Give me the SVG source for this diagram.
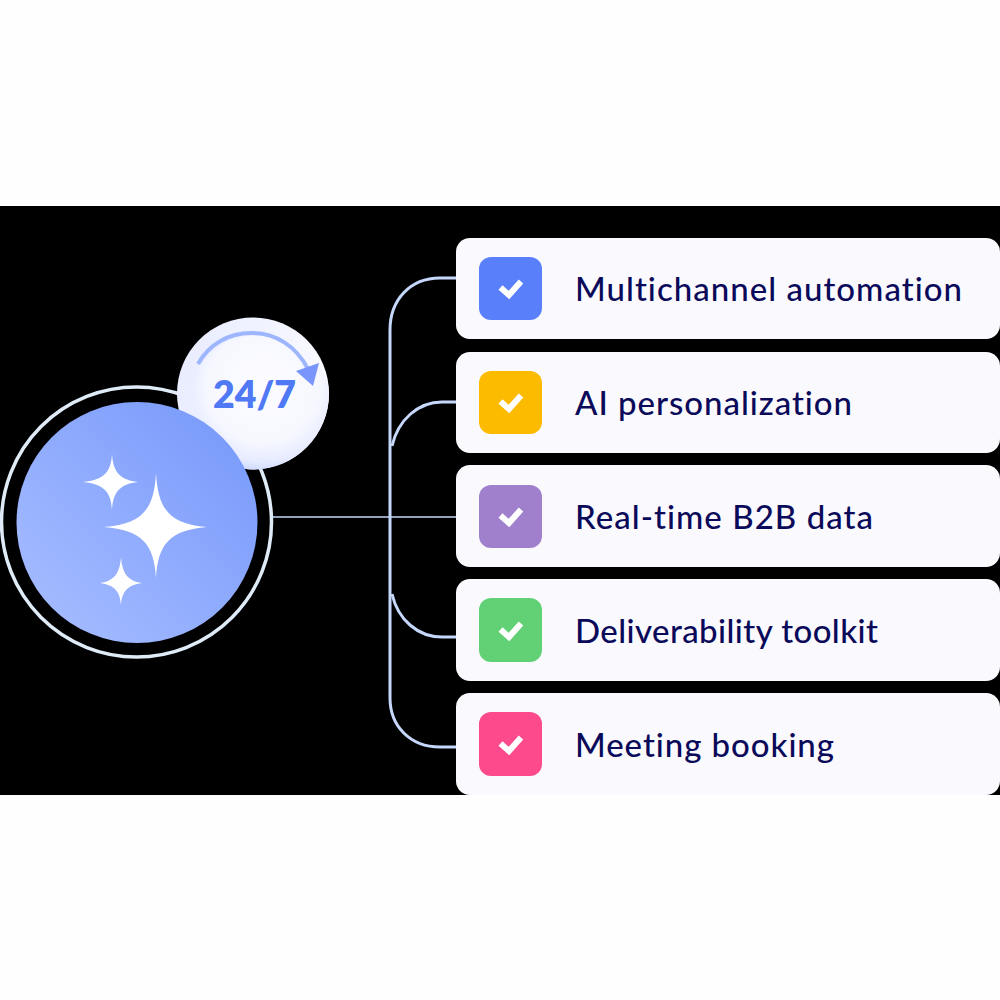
<svg xmlns="http://www.w3.org/2000/svg" width="1000" height="1000" viewBox="0 0 1000 1000">
<defs>
<linearGradient id="big" x1="0.15" y1="0.9" x2="0.9" y2="0.15"><stop offset="0" stop-color="#a3baff"/><stop offset="1" stop-color="#7b9cfb"/></linearGradient>
<radialGradient id="small" cx="0.52" cy="0.38" r="0.66"><stop offset="0" stop-color="#fcfcff"/><stop offset="0.62" stop-color="#f7f8ff"/><stop offset="0.85" stop-color="#e6ebff"/><stop offset="1" stop-color="#c6d3fe"/></radialGradient>
<linearGradient id="smallBack" x1="0" y1="0" x2="1" y2="0.3"><stop offset="0" stop-color="#e6ebff"/><stop offset="1" stop-color="#fafaff"/></linearGradient>
<style>
.card{fill:#fafafe}
.check{fill:none;stroke:#fff;stroke-width:6;stroke-linecap:butt;stroke-linejoin:miter}
.label{font-family:"Lato","Liberation Sans",sans-serif;font-size:33px;fill:#0b0a5a;font-weight:500;font-variant-ligatures:none}
.conn{fill:none;stroke:#c5d7fa;stroke-width:3}
.spark{fill:#fff}
</style>
</defs>
<rect width="1000" height="1000" fill="#fefefe"/>
<rect y="206" width="1000" height="589" fill="#000"/>
<g id="connectors">
<path class="conn" d="M456 278H440C410 278 390 300 390 330V698C390 726 410 747 440 747H456"/>
<path class="conn" d="M456 402H442C418 402 398 420 392 446"/>
<path class="conn" d="M456 637H442C418 637 398 620 392 594"/>
<path class="conn" style="stroke-width:1.6" d="M273 517H456"/>
</g>
<g id="hub">
<circle cx="136.500" cy="522" r="135" fill="none" stroke="#dfecf8" stroke-width="3.500"/>
<g id="badge">
<circle cx="253" cy="393.500" r="76" fill="url(#smallBack)"/>
<path d="M193 397C193 362 220 336 253 336C290 336 329 360 329 393.500C329 435 295 469.500 253 469.500C235 469.500 215 460 205 445C197 430 193 415 193 397Z" fill="url(#small)"/>
<path d="M198 364C209 344 229 333 251 333C276 333 296 346 308 369" fill="none" stroke="#9db6fd" stroke-width="4"/>
<polygon points="319,363 296,371 313,386" fill="#7896fb"/>
<text x="254.500" y="408" text-anchor="middle" textLength="83" lengthAdjust="spacingAndGlyphs" font-family="Lato, 'Liberation Sans', sans-serif" font-weight="800" font-size="37" fill="#5079f5">24/7</text>
</g>
<circle cx="137" cy="522.500" r="120.500" fill="url(#big)"/>
<path class="spark" d="M156 473C158 510 170 524 207 527C170 530 158 544 156 578C154 544 142 530 104 527C142 524 154 510 156 473Z"/>
<path class="spark" d="M112 454C113 472 120 480 138 482C120 484 113 492 112 510C111 492 104 484 83 482C104 480 111 472 112 454Z"/>
<path class="spark" d="M121 557C122 572 127 581 142 583C127 585 122 592 121 605C120 592 115 585 100 583C115 581 120 572 121 557Z"/>
</g>
<g id="item-1"><rect class="card" x="456" y="238" width="544" height="101" rx="14"/><rect x="479" y="257" width="63" height="63" rx="12" fill="#5a7ffb"/><path class="check" d="M500.500 287.500L509 295L521 281.500"/><text class="label" x="575" y="301" textLength="387" lengthAdjust="spacing">Multichannel automation</text></g>
<g id="item-2"><rect class="card" x="456" y="352" width="544" height="101" rx="14"/><rect x="479" y="371" width="63" height="63" rx="12" fill="#fdbb00"/><path class="check" d="M500.500 401.500L509 409L521 395.500"/><text class="label" x="575" y="415" textLength="277" lengthAdjust="spacing">AI personalization</text></g>
<g id="item-3"><rect class="card" x="456" y="465" width="544" height="102" rx="14"/><rect x="479" y="485" width="63" height="63" rx="12" fill="#a080cc"/><path class="check" d="M500.500 515.500L509 523L521 509.500"/><text class="label" x="575" y="529" textLength="298" lengthAdjust="spacing">Real-time B2B data</text></g>
<g id="item-4"><rect class="card" x="456" y="579" width="544" height="102" rx="14"/><rect x="479" y="598" width="63" height="64" rx="12" fill="#62d176"/><path class="check" d="M500.500 629.500L509 637L521 623.500"/><text class="label" x="575" y="643" textLength="303" lengthAdjust="spacing">Deliverability toolkit</text></g>
<g id="item-5"><rect class="card" x="456" y="693" width="544" height="102" rx="14"/><rect x="479" y="712" width="63" height="64" rx="12" fill="#fc4a8c"/><path class="check" d="M500.500 743.500L509 751L521 737.500"/><text class="label" x="575" y="757" textLength="259" lengthAdjust="spacing">Meeting booking</text></g>
</svg>
